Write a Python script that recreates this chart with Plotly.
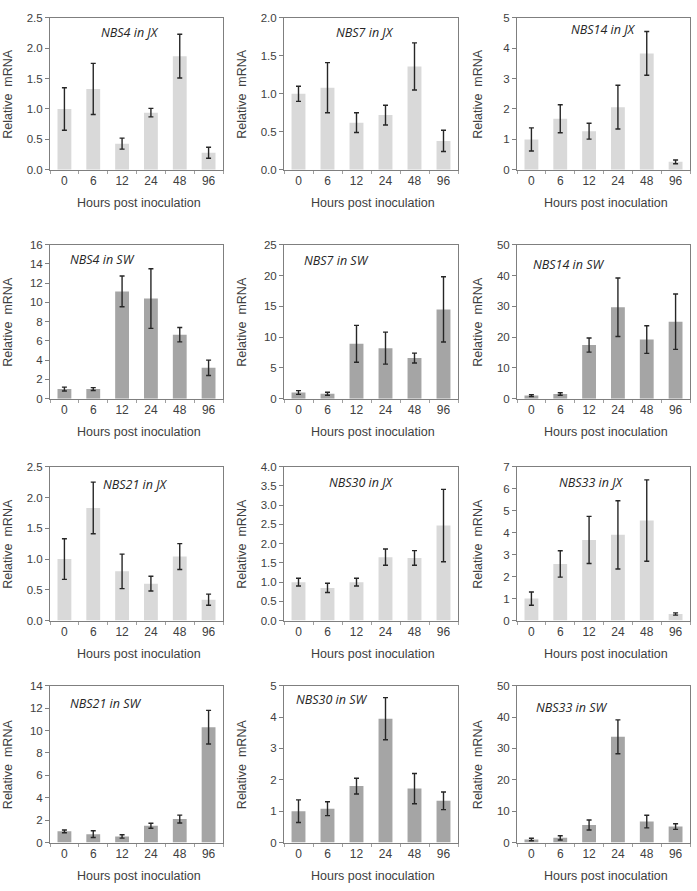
import plotly.graph_objects as go

# ---------------- data ----------------
hours = ["0", "6", "12", "24", "48", "96"]

panel_titles = ["NBS4 in JX", "NBS7 in JX", "NBS14 in JX",
                "NBS4 in SW", "NBS7 in SW", "NBS14 in SW",
                "NBS21 in JX", "NBS30 in JX", "NBS33 in JX",
                "NBS21 in SW", "NBS30 in SW", "NBS33 in SW"]

nbs4_jx = [1.0, 1.33, 0.43, 0.94, 1.87, 0.28]
nbs4_jx_err = [0.35, 0.42, 0.09, 0.07, 0.36, 0.09]
nbs7_jx = [1.0, 1.08, 0.62, 0.72, 1.36, 0.38]
nbs7_jx_err = [0.10, 0.33, 0.13, 0.13, 0.31, 0.14]
nbs14_jx = [1.0, 1.68, 1.27, 2.06, 3.83, 0.26]
nbs14_jx_err = [0.38, 0.46, 0.26, 0.72, 0.72, 0.06]

nbs4_sw = [1.0, 1.0, 11.15, 10.4, 6.65, 3.2]
nbs4_sw_err = [0.2, 0.15, 1.6, 3.1, 0.75, 0.8]
nbs7_sw = [1.0, 0.8, 8.9, 8.2, 6.6, 14.5]
nbs7_sw_err = [0.3, 0.25, 3.0, 2.6, 0.8, 5.3]
nbs14_sw = [1.0, 1.5, 17.4, 29.7, 19.2, 25.0]
nbs14_sw_err = [0.3, 0.4, 2.3, 9.5, 4.5, 9.0]

nbs21_jx = [1.0, 1.83, 0.80, 0.60, 1.04, 0.34]
nbs21_jx_err = [0.33, 0.42, 0.28, 0.12, 0.21, 0.09]
nbs30_jx = [1.0, 0.85, 1.0, 1.65, 1.63, 2.47]
nbs30_jx_err = [0.10, 0.12, 0.10, 0.21, 0.19, 0.94]
nbs33_jx = [1.0, 2.58, 3.67, 3.9, 4.55, 0.3]
nbs33_jx_err = [0.3, 0.6, 1.07, 1.55, 1.85, 0.05]

nbs21_sw = [1.0, 0.75, 0.55, 1.5, 2.1, 10.3]
nbs21_sw_err = [0.12, 0.3, 0.15, 0.22, 0.35, 1.5]
nbs30_sw = [1.0, 1.08, 1.8, 3.95, 1.72, 1.33]
nbs30_sw_err = [0.36, 0.22, 0.25, 0.67, 0.48, 0.28]
nbs33_sw = [1.0, 1.5, 5.6, 33.7, 6.7, 5.1]
nbs33_sw_err = [0.4, 0.7, 1.6, 5.4, 2.0, 0.9]

y_max = [2.5, 2.0, 5, 16, 25, 50, 2.5, 4.0, 7, 14, 5, 50]
y_step = [0.5, 0.5, 1, 2, 5, 10, 0.5, 0.5, 1, 2, 1, 10]
y_fmt = [".1f", ".1f", "d", "d", "d", "d", ".1f", ".1f", "d", "d", "d", "d"]

values = [nbs4_jx, nbs7_jx, nbs14_jx, nbs4_sw, nbs7_sw, nbs14_sw,
          nbs21_jx, nbs30_jx, nbs33_jx, nbs21_sw, nbs30_sw, nbs33_sw]
errors = [nbs4_jx_err, nbs7_jx_err, nbs14_jx_err, nbs4_sw_err, nbs7_sw_err, nbs14_sw_err,
          nbs21_jx_err, nbs30_jx_err, nbs33_jx_err, nbs21_sw_err, nbs30_sw_err, nbs33_sw_err]
cultivar = ["JX", "JX", "JX", "SW", "SW", "SW", "JX", "JX", "JX", "SW", "SW", "SW"]

# ---------------- layout geometry (pixels) ----------------
W, H = 697, 891
cols = [(50, 223), (284, 458), (517, 690)]
rows = [(12, 166), (242, 398), (467, 623), (689, 848)]
title_pos = [(130, 27), (365, 27), (603, 24),
             (102, 257), (336, 258), (569, 262),
             (135, 485), (361, 483), (591, 483),
             (106, 707), (332, 703), (572, 711)]
ytitle_x = [8, 242, 478]

colors = {"JX": "#d9d9d9", "SW": "#a5a5a5"}
font_main = "Liberation Sans, Arial, sans-serif"


def px(x):
    return x / W


def py(y):
    return 1 - y / H


fig = go.Figure()
layout = dict(
    width=W, height=H,
    margin=dict(l=0, r=0, t=0, b=0),
    paper_bgcolor="white", plot_bgcolor="white",
    showlegend=False,
    bargap=0.52,
    font=dict(family=font_main, size=12, color="#404040"),
)
annotations = []

for i in range(12):
    r, c = divmod(i, 3)
    k = "" if i == 0 else str(i + 1)
    xa, ya = "x" + k, "y" + k
    fig.add_trace(go.Bar(
        x=hours, y=values[i], xaxis=xa, yaxis=ya,
        marker=dict(color=colors[cultivar[i]], line=dict(width=0)),
        error_y=dict(type="data", array=errors[i], visible=True,
                     color="#262626", thickness=1.4, width=2.5),
    ))
    x0, x1 = cols[c]
    y0, y1 = rows[r]
    layout["xaxis" + k] = dict(
        domain=[px(x0), px(x1)], anchor=ya, type="category",
        showline=True, mirror=True, linecolor="#7f7f7f", linewidth=1,
        ticks="outside", tickson="boundaries", ticklen=3, tickcolor="#a0a0a0",
        showgrid=False, zeroline=False,
        tickfont=dict(size=12, color="#404040", family=font_main),
    )
    layout["yaxis" + k] = dict(
        domain=[py(y1), py(y0)], anchor=xa,
        range=[0, y_max[i]], dtick=y_step[i], tick0=0, tickformat=y_fmt[i],
        showline=True, mirror=True, linecolor="#7f7f7f", linewidth=1,
        ticks="outside", ticklen=4, tickcolor="#7f7f7f",
        showgrid=False, zeroline=False,
        tickfont=dict(size=11.5, color="#404040", family=font_main),
    )
    tx, ty = title_pos[i]
    annotations.append(dict(
        text="<i>" + panel_titles[i] + "</i>", x=px(tx), y=py(ty),
        xref="paper", yref="paper", xanchor="center", yanchor="middle",
        showarrow=False, font=dict(family="Open Sans, sans-serif", size=12.5, color="#262626"),
    ))
    annotations.append(dict(
        text="Relative  mRNA", x=px(ytitle_x[c]), y=py((y0 + y1) / 2),
        xref="paper", yref="paper", xanchor="center", yanchor="middle",
        textangle=-90, showarrow=False,
        font=dict(family=font_main, size=12.5, color="#404040"),
    ))
    annotations.append(dict(
        text="Hours post inoculation", x=px((x0 + x1) / 2 + 2), y=py(y1 + 34),
        xref="paper", yref="paper", xanchor="center", yanchor="middle",
        showarrow=False, font=dict(family=font_main, size=12.5, color="#404040"),
    ))

layout["annotations"] = annotations
fig.update_layout(**layout)
fig.write_html(
    "out.html",
    config={"displayModeBar": False},
    post_script="document.body.style.margin='0px';document.body.style.overflow='hidden';",
)
